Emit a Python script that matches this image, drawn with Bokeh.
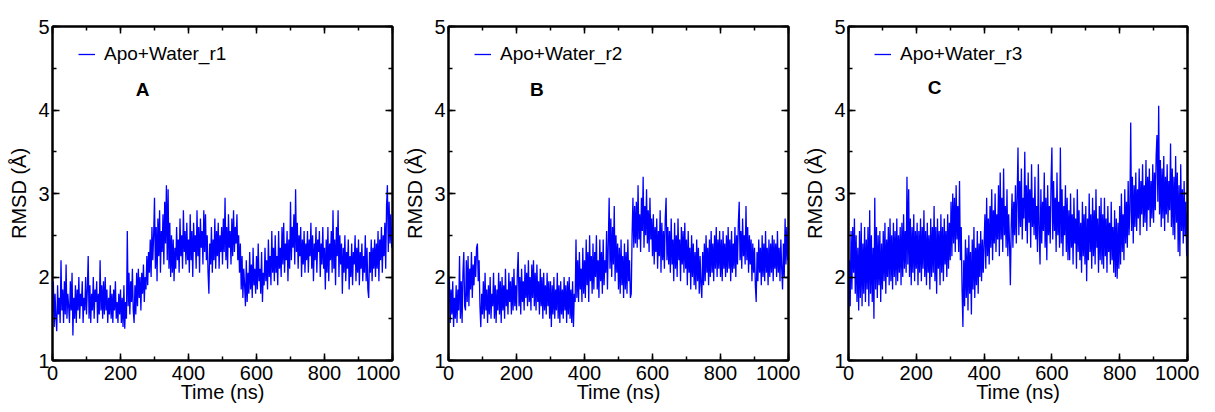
from bokeh.plotting import figure
from bokeh.layouts import row
from bokeh.models import (LinearAxis, SingleIntervalTicker, Range1d, Legend,
                          LegendItem, Label, CustomJSTickFormatter)
from bokeh.embed import file_html
from bokeh.resources import INLINE

# ---------------- data (2.5 ns sampling) ----------------
time_ns = [i * 2.5 for i in range(401)]

rmsd_r1 = [
    1.55, 1.95, 1.40, 1.80, 1.50, 1.35, 1.90, 1.55, 1.75, 1.45, 2.20, 1.60, 1.85, 1.45, 1.95, 1.55, 2.15, 1.50, 1.80, 1.65,
    1.45, 1.95, 1.60, 2.05, 1.30, 1.75, 1.50, 1.90, 1.45, 1.85, 1.60, 2.00, 1.50, 1.80, 1.65, 1.95, 1.45, 1.75, 1.60, 2.00,
    1.55, 1.85, 2.25, 1.50, 1.90, 1.45, 1.80, 1.60, 2.00, 1.50, 1.85, 1.70, 1.95, 1.45, 1.80, 1.55, 2.20, 1.60, 1.90, 1.50,
    1.95, 1.55, 2.00, 1.60, 1.85, 1.45, 1.75, 1.55, 1.90, 1.50, 1.80, 1.45, 1.85, 1.60, 1.95, 1.50, 1.70, 1.45, 1.80, 1.55,
    1.85, 1.45, 1.75, 1.40, 1.90, 1.38, 1.70, 1.50, 2.55, 1.65, 2.05, 1.55, 1.95, 1.70, 2.10, 1.60, 1.45, 1.90, 1.55, 2.05,
    1.65, 2.10, 1.75, 2.00, 1.60, 2.05, 1.80, 2.15, 1.70, 2.00, 1.85, 2.25, 1.90, 2.30, 2.05, 2.45, 2.00, 2.60, 2.20, 2.50,
    2.95, 2.10, 2.60, 1.95, 2.70, 2.25, 2.80, 2.05, 2.55, 2.30, 2.75, 2.15, 2.90, 2.40, 3.10, 2.20, 3.05, 2.10, 2.65, 2.00,
    2.50, 2.05, 2.45, 1.95, 2.35, 2.10, 2.60, 2.20, 2.45, 2.05, 2.70, 2.25, 2.50, 2.10, 2.80, 2.30, 2.55, 2.15, 2.65, 2.20,
    2.45, 2.05, 2.75, 2.20, 2.55, 2.00, 2.65, 2.30, 2.50, 2.10, 2.80, 2.25, 2.60, 2.05, 2.70, 2.35, 2.55, 2.15, 2.80, 2.30,
    2.75, 2.20, 2.50, 2.05, 1.80, 2.40, 2.15, 2.60, 2.05, 2.45, 2.20, 2.70, 2.10, 2.55, 2.25, 2.65, 2.10, 2.50, 2.30, 2.60,
    2.15, 2.70, 2.30, 2.95, 2.20, 2.60, 2.10, 2.75, 2.35, 2.55, 2.15, 2.70, 2.25, 2.80, 2.30, 2.60, 2.40, 2.75, 2.20, 2.50,
    2.05, 2.40, 1.85, 2.25, 1.75, 2.10, 1.90, 1.65, 2.20, 1.70, 2.05, 1.80, 2.30, 1.85, 2.15, 1.75, 2.35, 1.90, 2.10, 1.80,
    2.25, 1.85, 2.40, 1.95, 2.10, 1.80, 2.30, 1.70, 2.05, 1.90, 2.35, 1.95, 2.20, 1.85, 2.45, 2.00, 2.25, 1.90, 2.55, 2.05,
    2.35, 1.95, 2.50, 2.05, 2.25, 1.90, 2.55, 2.10, 2.35, 2.00, 2.60, 2.15, 2.65, 2.05, 2.40, 2.20, 2.55, 1.95, 2.45, 2.10,
    2.90, 2.20, 2.60, 2.35, 2.75, 2.15, 3.05, 2.30, 2.65, 2.10, 2.50, 2.25, 2.60, 2.00, 2.45, 2.15, 2.55, 2.05, 2.40, 2.20,
    2.55, 2.05, 2.45, 2.25, 2.65, 2.10, 2.50, 1.95, 2.40, 2.20, 2.60, 2.05, 2.45, 2.30, 2.55, 2.00, 2.40, 2.15, 2.60, 2.10,
    2.35, 1.85, 2.45, 2.05, 2.60, 1.95, 2.40, 2.20, 2.55, 2.05, 2.80, 2.10, 2.45, 1.90, 2.60, 2.25, 2.80, 2.00, 2.50, 2.15,
    2.40, 1.80, 2.35, 2.05, 2.50, 1.95, 2.30, 2.10, 2.45, 1.85, 2.25, 2.00, 2.40, 1.90, 2.30, 2.15, 2.50, 1.95, 2.35, 2.05,
    2.45, 1.90, 2.30, 2.10, 2.40, 1.95, 2.25, 2.05, 2.50, 1.95, 2.35, 1.85, 1.75, 2.30, 2.05, 2.45, 1.95, 2.35, 2.10, 2.45,
    2.00, 2.40, 2.10, 2.55, 1.95, 2.45, 2.20, 2.60, 2.05, 2.50, 2.25, 2.65, 2.10, 2.85, 3.10, 2.30, 2.90, 2.40, 2.75, 2.35,
    2.60,
]

rmsd_r2 = [
    1.70, 2.00, 1.45, 1.85, 1.55, 1.95, 1.40, 1.75, 1.50, 1.90, 1.45, 1.85, 1.60, 2.25, 1.50, 1.95, 1.45, 2.05, 2.30, 1.65,
    1.60, 2.20, 1.70, 2.25, 1.65, 2.10, 1.85, 2.30, 1.75, 2.15, 1.90, 2.25, 2.00, 2.35, 2.40, 1.95, 2.20, 1.65, 1.40, 1.80,
    1.55, 1.95, 1.50, 2.05, 1.60, 1.85, 1.45, 1.90, 1.55, 2.00, 1.50, 1.80, 1.65, 2.05, 1.50, 1.90, 1.45, 1.85, 1.60, 2.05,
    1.55, 1.95, 1.45, 2.00, 1.60, 1.90, 1.50, 2.10, 1.65, 1.85, 1.55, 2.05, 1.70, 1.95, 1.55, 2.00, 1.60, 2.10, 1.65, 1.90,
    1.60, 2.05, 2.30, 1.65, 2.00, 1.55, 2.10, 1.70, 1.95, 1.60, 2.15, 1.75, 2.05, 1.65, 2.20, 1.70, 2.00, 1.60, 2.15, 1.75,
    2.20, 1.65, 2.05, 1.60, 2.15, 1.70, 1.95, 1.55, 2.10, 1.65, 2.00, 1.50, 2.05, 1.60, 1.90, 1.55, 2.05, 1.65, 1.95, 1.50,
    1.95, 1.40, 1.90, 1.55, 2.00, 1.50, 1.85, 1.60, 2.05, 1.50, 1.90, 1.45, 1.95, 1.55, 1.85, 1.50, 2.00, 1.60, 1.90, 1.45,
    1.95, 1.55, 2.00, 1.50, 1.85, 1.45, 1.95, 1.40, 1.80, 1.70, 2.45, 1.75, 2.20, 1.70, 2.30, 1.85, 2.10, 1.70, 2.35, 1.80,
    2.20, 1.75, 2.45, 1.90, 2.30, 1.70, 2.50, 1.95, 2.25, 1.80, 2.40, 1.85, 2.30, 2.00, 2.50, 1.85, 2.20, 1.75, 2.45, 1.95,
    2.30, 1.80, 2.45, 1.90, 2.20, 2.05, 2.55, 1.85, 2.40, 2.95, 2.10, 2.70, 2.00, 2.60, 2.15, 2.85, 1.95, 2.50, 2.05, 2.40,
    1.85, 2.35, 1.80, 2.45, 1.90, 2.25, 1.75, 2.40, 1.85, 2.30, 1.80, 2.45, 1.95, 2.20, 1.75, 1.80, 2.50, 2.95, 2.35, 2.85,
    2.40, 2.90, 2.35, 3.10, 2.45, 2.75, 2.30, 2.95, 2.55, 3.20, 2.35, 2.85, 2.50, 3.05, 2.40, 2.80, 2.30, 2.95, 2.45, 2.70,
    2.25, 2.75, 2.15, 2.60, 2.30, 2.70, 2.10, 2.55, 2.25, 2.80, 2.05, 2.65, 2.20, 2.55, 2.10, 2.70, 2.95, 2.20, 2.60, 2.15,
    2.55, 2.05, 2.70, 2.15, 2.45, 1.95, 2.65, 2.10, 2.50, 2.00, 2.70, 2.20, 2.45, 1.95, 2.60, 2.15, 2.55, 2.05, 2.65, 2.10,
    2.45, 1.90, 2.55, 2.05, 2.35, 1.85, 2.50, 2.00, 2.40, 1.90, 2.30, 1.85, 2.45, 1.95, 2.35, 1.80, 2.25, 1.90, 1.75, 2.30,
    1.90, 2.40, 1.95, 2.50, 2.05, 2.35, 1.90, 2.45, 2.00, 2.55, 2.05, 2.40, 1.95, 2.50, 2.10, 2.60, 2.00, 2.45, 2.10, 2.55,
    2.00, 2.45, 1.95, 2.55, 2.10, 2.40, 2.00, 2.50, 2.05, 2.60, 2.10, 2.45, 1.95, 2.55, 2.05, 2.40, 2.10, 2.60, 2.00, 2.50,
    2.15, 2.65, 2.90, 2.20, 2.55, 2.10, 2.70, 2.25, 2.50, 2.15, 2.85, 2.20, 2.60, 2.05, 2.50, 2.15, 2.45, 1.95, 2.40, 2.05,
    2.35, 1.90, 1.70, 2.30, 1.95, 2.45, 2.05, 2.35, 1.90, 2.50, 2.00, 2.40, 1.95, 2.55, 2.05, 2.35, 1.90, 2.45, 2.00, 2.40,
    2.05, 2.50, 1.95, 2.45, 2.10, 2.40, 2.00, 2.55, 2.05, 2.35, 1.95, 2.45, 2.10, 1.85, 2.40, 2.00, 2.70, 2.15, 2.60, 2.20,
    2.55,
]

rmsd_r3 = [
    1.55, 2.20, 1.65, 2.55, 1.85, 2.60, 2.05, 2.70, 1.80, 2.50, 1.70, 2.35, 1.60, 2.55, 1.75, 2.65, 1.65, 2.40, 1.80, 2.60,
    1.70, 2.45, 1.85, 2.60, 1.65, 2.80, 1.80, 2.50, 1.70, 2.35, 1.50, 2.95, 1.85, 2.60, 1.75, 2.50, 1.90, 2.55, 1.70, 2.40,
    1.85, 2.55, 1.95, 2.65, 1.80, 2.45, 2.00, 2.60, 1.90, 2.70, 1.95, 2.50, 1.85, 2.65, 2.00, 2.55, 1.90, 2.70, 1.95, 2.50,
    2.05, 2.60, 1.90, 2.65, 2.00, 2.75, 2.10, 2.55, 2.05, 3.20, 2.15, 3.05, 2.00, 2.70, 1.90, 2.60, 2.05, 2.75, 1.95, 2.55,
    2.10, 2.65, 1.90, 2.55, 2.05, 2.70, 1.95, 2.60, 2.10, 2.80, 2.00, 2.55, 1.90, 2.65, 2.05, 2.50, 1.85, 2.70, 2.00, 2.60,
    2.05, 2.85, 1.95, 2.60, 1.80, 2.70, 2.10, 2.55, 1.90, 2.75, 2.05, 2.60, 1.95, 2.70, 2.15, 2.55, 2.00, 2.75, 2.10, 2.65,
    2.20, 2.90, 2.25, 3.00, 2.40, 2.95, 2.30, 3.10, 2.45, 2.85, 2.30, 3.15, 2.20, 2.60, 1.85, 1.40, 2.20, 1.65, 2.45, 1.75,
    2.35, 1.60, 2.50, 1.80, 2.30, 1.55, 2.45, 1.85, 2.60, 1.75, 2.35, 1.90, 2.55, 1.80, 2.40, 2.00, 2.55, 1.95, 2.45, 2.05,
    2.40, 2.75, 2.10, 2.95, 2.25, 2.70, 2.15, 2.85, 2.35, 3.05, 2.20, 2.80, 2.40, 3.00, 2.30, 2.75, 2.45, 3.10, 2.25, 3.25,
    2.45, 2.95, 2.30, 3.30, 2.50, 2.85, 2.35, 3.05, 2.25, 2.75, 2.40, 1.90, 2.60, 3.00, 2.35, 2.90, 2.50, 3.10, 2.40, 2.95,
    3.55, 2.50, 3.15, 2.60, 3.30, 2.45, 2.95, 2.70, 3.50, 2.55, 3.10, 2.40, 3.25, 2.65, 3.05, 2.35, 3.35, 2.60, 2.95, 2.50,
    3.20, 2.45, 2.85, 2.30, 3.35, 2.55, 2.15, 3.05, 2.40, 2.90, 2.55, 3.25, 2.35, 2.95, 2.20, 3.10, 2.50, 2.85, 2.40, 3.15,
    3.55, 2.45, 3.15, 2.55, 2.95, 2.30, 3.25, 2.50, 2.90, 2.35, 3.55, 2.40, 3.05, 2.25, 2.85, 2.50, 3.10, 2.30, 2.95, 2.20,
    2.80, 2.20, 3.00, 2.35, 2.75, 2.15, 2.95, 2.40, 2.70, 2.10, 3.05, 2.30, 2.80, 2.20, 2.65, 2.05, 2.90, 2.25, 2.75, 2.15,
    2.85, 1.95, 2.70, 2.20, 3.00, 2.30, 2.75, 2.10, 2.95, 2.25, 2.80, 2.15, 3.05, 2.35, 2.70, 2.05, 2.85, 2.20, 2.95, 2.15,
    2.75, 2.10, 2.95, 2.25, 2.70, 2.05, 2.85, 2.30, 2.65, 2.15, 2.90, 2.20, 2.60, 2.05, 2.80, 2.00, 2.70, 1.98, 2.65, 2.10,
    2.85, 2.15, 3.00, 2.30, 2.75, 2.20, 3.05, 2.40, 2.90, 2.35, 3.15, 2.50, 2.80, 3.85, 2.55, 3.20, 2.40, 3.10, 2.60, 3.25,
    2.55, 3.05, 2.70, 3.30, 2.50, 3.15, 2.75, 3.35, 2.60, 3.10, 2.65, 3.40, 2.55, 3.20, 2.80, 3.30, 2.60, 3.15, 2.70, 3.35,
    2.65, 3.25, 2.80, 3.45, 3.70, 2.90, 4.05, 2.75, 3.40, 2.60, 3.30, 2.70, 3.45, 2.55, 3.20, 2.75, 3.35, 2.65, 3.15, 2.80,
    3.60, 2.60, 3.30, 2.50, 3.20, 2.45, 3.45, 2.65, 3.25, 2.30, 3.10, 2.25, 3.35, 2.55, 3.05, 2.40, 3.15, 2.50, 2.90, 2.25,
    2.80,
]

series_names = ["Apo+Water_r1", "Apo+Water_r2", "Apo+Water_r3"]
panel_letters = ["A", "B", "C"]
letter_x = [265, 260, 254]
letter_y = [4.24, 4.25, 4.27]

x_tick_interval = 200
y_tick_interval = 1

FONT = "Liberation Sans"
BLUE = "#0000ff"


def style_axis(ax, show_labels=True):
    ax.axis_line_color = "black"
    ax.axis_line_width = 2
    ax.major_tick_line_color = "black"
    ax.minor_tick_line_color = "black"
    ax.major_tick_line_width = 1.5
    ax.minor_tick_line_width = 1.5
    ax.major_tick_in = 7
    ax.major_tick_out = 0
    ax.minor_tick_in = 4
    ax.minor_tick_out = 0
    ax.major_label_text_font = FONT
    ax.major_label_text_color = "black"
    ax.major_label_text_font_size = "20px"
    ax.axis_label_text_font = FONT
    ax.axis_label_text_font_style = "normal"
    ax.axis_label_text_font_size = "20px"
    ax.axis_label_text_color = "black"
    if show_labels:
        ax.major_label_standoff = 3
    else:
        ax.formatter = CustomJSTickFormatter(code="return ''")
        ax.major_label_standoff = 0


def make_panel(values, name, letter, lx, ly, width, height, bl, br, bt, bb):
    p = figure(width=width, height=height,
               x_range=Range1d(0, 1000), y_range=Range1d(1, 5),
               output_backend="svg", toolbar_location=None,
               min_border_left=bl, min_border_right=br,
               min_border_top=bt, min_border_bottom=bb)
    p.grid.visible = False
    p.outline_line_color = "black"
    p.outline_line_width = 2
    p.background_fill_color = "white"
    p.border_fill_color = "white"

    r = p.line(time_ns, values, line_color=BLUE, line_width=1.3)

    p.xaxis.ticker = SingleIntervalTicker(interval=x_tick_interval, num_minor_ticks=2)
    p.yaxis.ticker = SingleIntervalTicker(interval=y_tick_interval, num_minor_ticks=2)
    p.xaxis.axis_label = "Time (ns)"
    p.yaxis.axis_label = "RMSD (\u00c5)"
    style_axis(p.xaxis[0])
    style_axis(p.yaxis[0])
    p.xaxis.major_label_standoff = 5
    p.xaxis.axis_label_standoff = -2
    p.yaxis.axis_label_standoff = 5

    top = LinearAxis(ticker=SingleIntervalTicker(interval=x_tick_interval, num_minor_ticks=2))
    style_axis(top, show_labels=False)
    p.add_layout(top, "above")
    right = LinearAxis(ticker=SingleIntervalTicker(interval=y_tick_interval, num_minor_ticks=2))
    style_axis(right, show_labels=False)
    p.add_layout(right, "right")

    legend = Legend(items=[LegendItem(label=name, renderers=[r])],
                    location=(26, 295), orientation="vertical")
    legend.background_fill_alpha = 0
    legend.border_line_color = None
    legend.glyph_width = 17
    legend.glyph_height = 20
    legend.label_height = 20
    legend.label_standoff = 9
    legend.label_text_font = FONT
    legend.label_text_font_size = "19px"
    legend.label_text_color = "black"
    legend.padding = 0
    legend.margin = 0
    legend.spacing = 0
    p.add_layout(legend)

    p.add_layout(Label(x=lx, y=ly, text=letter, text_font=FONT,
                       text_font_size="19px", text_font_style="bold",
                       text_align="center", text_baseline="middle",
                       text_color="black"))
    return p


# Bokeh's page template has no body margin: borders place the frames
p1 = make_panel(rmsd_r1, series_names[0], panel_letters[0], letter_x[0], letter_y[0],
                400, 412, 52, 8, 22, 52)
p2 = make_panel(rmsd_r2, series_names[1], panel_letters[1], letter_x[1], letter_y[1],
                400, 412, 48, 12, 24, 50)
p3 = make_panel(rmsd_r3, series_names[2], panel_letters[2], letter_x[2], letter_y[2],
                399, 412, 48, 12, 26, 48)

layout = row(p1, p2, p3)
open("out.html", "w").write(file_html(layout, INLINE))
